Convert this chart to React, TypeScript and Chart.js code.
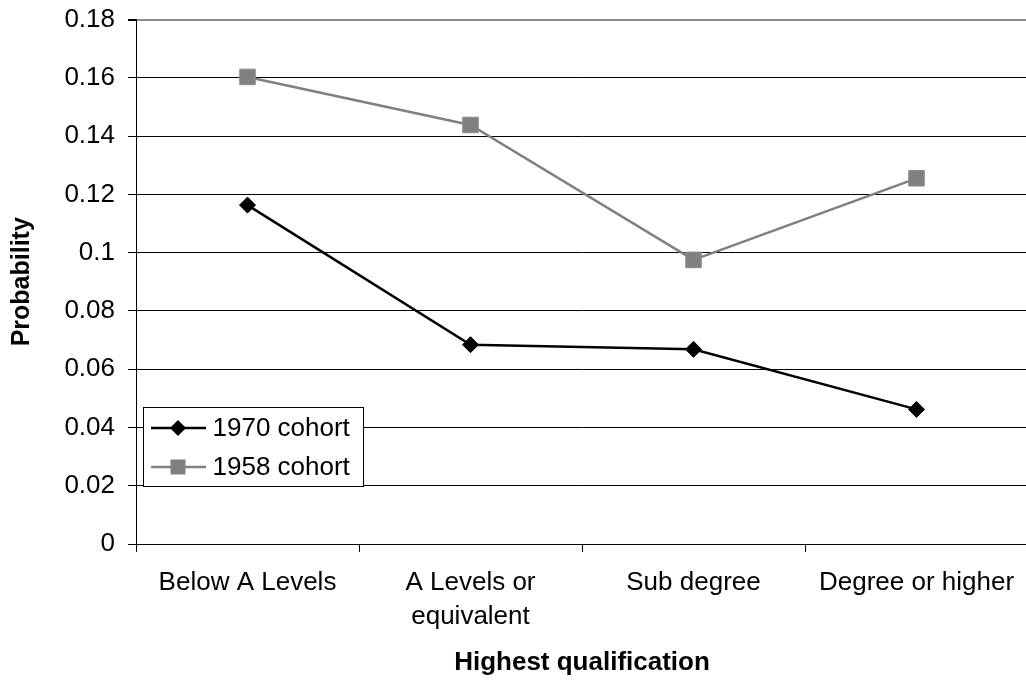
import React, { useEffect, useRef } from "react";
import { Chart, registerables } from "chart.js";

Chart.register(...registerables);

const categories: string[][] = [
  ["Below A Levels"],
  ["A Levels or", "equivalent"],
  ["Sub degree"],
  ["Degree or higher"],
];
const seriesNames = ["1970 cohort", "1958 cohort"];
const cohort1970 = [0.1163, 0.0684, 0.0668, 0.0462];
const cohort1958 = [0.1603, 0.1438, 0.0975, 0.1255];
const yTickLabels = ["0", "0.02", "0.04", "0.06", "0.08", "0.1", "0.12", "0.14", "0.16", "0.18"];
const xTitle = "Highest qualification";
const yTitle = "Probability";

const FONT = "'Liberation Sans', Arial, Helvetica, sans-serif";
const BLACK = "#000000";
const GREY = "#808080";

const legendPlugin = {
  id: "boxLegend",
  afterDraw(chart: any) {
    const ctx = chart.ctx as CanvasRenderingContext2D;
    const ca = chart.chartArea;
    const bx = ca.left + 7.5;
    const by = 407.5;
    const bw = 220;
    const bh = 79;
    ctx.save();
    ctx.fillStyle = "#ffffff";
    ctx.fillRect(bx, by, bw, bh);
    ctx.strokeStyle = BLACK;
    ctx.lineWidth = 1;
    ctx.strokeRect(bx, by, bw, bh);
    const rows = [
      { name: seriesNames[0], color: BLACK, style: "diamond", y: by + 20.5 },
      { name: seriesNames[1], color: GREY, style: "square", y: by + 59.5 },
    ];
    rows.forEach((r) => {
      ctx.strokeStyle = r.color;
      ctx.lineWidth = 2.5;
      ctx.beginPath();
      ctx.moveTo(bx + 7.5, r.y);
      ctx.lineTo(bx + 62.5, r.y);
      ctx.stroke();
      ctx.fillStyle = r.color;
      const cx = bx + 34.5;
      if (r.style === "diamond") {
        ctx.beginPath();
        ctx.moveTo(cx, r.y - 8);
        ctx.lineTo(cx + 8, r.y);
        ctx.lineTo(cx, r.y + 8);
        ctx.lineTo(cx - 8, r.y);
        ctx.closePath();
        ctx.fill();
      } else {
        ctx.fillRect(cx - 7.5, r.y - 7.5, 15, 15);
      }
      ctx.fillStyle = BLACK;
      ctx.font = `26px ${FONT}`;
      ctx.textAlign = "left";
      ctx.textBaseline = "middle";
      ctx.fillText(r.name, bx + 69, r.y + 1);
    });
    ctx.restore();
  },
};

export default function App() {
  const ref = useRef<HTMLCanvasElement | null>(null);

  useEffect(() => {
    if (!ref.current) return;
    const chart = new Chart(ref.current, {
      type: "line",
      data: {
        labels: categories,
        datasets: [
          {
            label: seriesNames[0],
            data: cohort1970,
            borderColor: BLACK,
            backgroundColor: BLACK,
            borderWidth: 2.5,
            pointStyle: "rectRot",
            pointRadius: 8,
            pointBorderWidth: 1,
            pointBackgroundColor: BLACK,
            pointBorderColor: BLACK,
            tension: 0,
          },
          {
            label: seriesNames[1],
            data: cohort1958,
            borderColor: GREY,
            backgroundColor: GREY,
            borderWidth: 2.5,
            pointStyle: "rect",
            pointRadius: 11,
            pointBorderWidth: 1,
            pointBackgroundColor: GREY,
            pointBorderColor: "#8c8c8c",
            tension: 0,
          },
        ],
      },
      options: {
        responsive: false,
        animation: false,
        layout: { padding: { top: 19.5, left: 0, right: 9.5, bottom: 0 } },
        plugins: {
          legend: { display: false },
          tooltip: { enabled: false },
          title: { display: false },
        },
        scales: {
          x: {
            type: "category",
            offset: true,
            afterFit: (s: any) => {
              s.height = 136;
              s.paddingLeft = 0;
              s.paddingRight = 0;
            },
            grid: {
              display: true,
              offset: true,
              drawOnChartArea: false,
              drawTicks: true,
              tickLength: 8,
              color: BLACK,
              tickColor: BLACK,
              lineWidth: 1,
            },
            border: { display: true, color: BLACK, width: 1 },
            ticks: {
              color: BLACK,
              font: { family: FONT, size: 26, lineHeight: 1.3 },
              padding: 14,
              maxRotation: 0,
              minRotation: 0,
              autoSkip: false,
            },
            title: {
              display: true,
              text: xTitle,
              color: BLACK,
              font: { family: FONT, size: 26, weight: "bold", lineHeight: 1.2 },
              padding: { top: 0, bottom: 1.5 },
            },
          },
          y: {
            min: 0,
            max: 0.18,
            afterFit: (s: any) => {
              s.width = 136;
              s.paddingTop = 0;
              s.paddingBottom = 0;
            },
            ticks: {
              stepSize: 0.02,
              color: BLACK,
              font: { family: FONT, size: 26 },
              padding: 13,
              callback: (_v: any, i: number) => yTickLabels[i],
            },
            grid: {
              display: true,
              drawOnChartArea: true,
              drawTicks: true,
              tickLength: 8,
              color: (c: any) => (c.index === yTickLabels.length - 1 ? "#8c8c8c" : BLACK),
              tickColor: BLACK,
              lineWidth: (c: any) => (c.index === yTickLabels.length - 1 ? 2 : 1),
            },
            border: { display: true, color: BLACK, width: 1 },
            title: {
              display: true,
              text: yTitle,
              color: BLACK,
              font: { family: FONT, size: 25, weight: "bold", lineHeight: 1.2 },
              padding: { top: 7, bottom: 0 },
            },
          },
        },
      },
      plugins: [legendPlugin],
    } as any);
    return () => chart.destroy();
  }, []);

  return (
    <div
      style={{
        position: "fixed",
        left: 0,
        top: 0,
        width: 1026,
        height: 680,
        overflow: "hidden",
        background: "#ffffff",
      }}
    >
      <canvas ref={ref} width={1040} height={680} style={{ width: 1040, height: 680, display: "block" }} />
    </div>
  );
}
